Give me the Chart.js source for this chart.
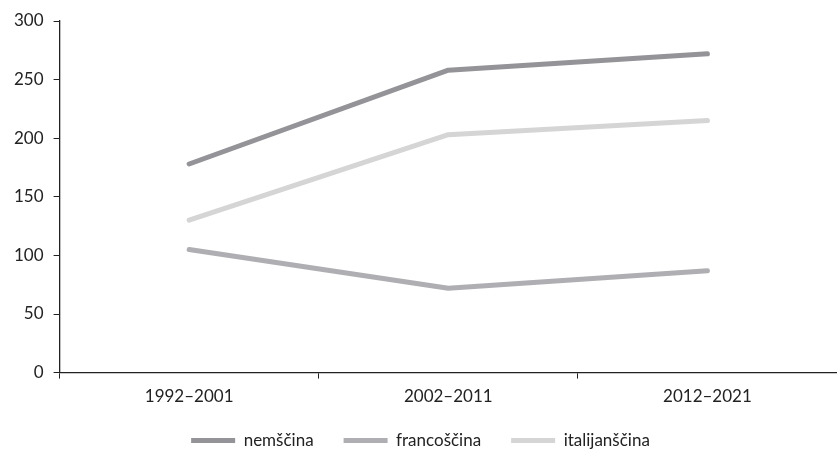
<!DOCTYPE html>
<html>
<head>
<meta charset="utf-8">
<script src="https://cdn.jsdelivr.net/npm/chart.js@4"></script>
<style>
  html, body { margin: 0; padding: 0; background: #fff; }
  #wrap { width: 837px; height: 449px; }
</style>
</head>
<body>
<div id="wrap"><canvas id="langChart"></canvas></div>
<script>
// Data
const periods = ['1992–2001', '2002–2011', '2012–2021']
const nemscina = [178, 258, 272]
const francoscina = [105, 72, 87]
const italijanscina = [130, 203, 215]
const yTicks = [0, 50, 100, 150, 200, 250, 300]

Chart.defaults.font.family = 'Lato, "Open Sans", sans-serif'
Chart.defaults.font.size = 17
Chart.defaults.color = '#222'

const legendPad = 30

// legend padding is used both between items and above/below the row;
// keep the wide gaps between items but make the legend box much shorter
const legendTrim = {
  id: 'legendTrim',
  beforeUpdate(chart) {
    const lg = chart.legend
    if (!lg || lg._trimmed) return
    const lift = legendPad - 17
    const origFit = lg.fit.bind(lg)
    const origDraw = lg.draw.bind(lg)
    lg.fit = function () {
      origFit()
      this.height -= 10 + lift
    }
    lg.draw = function () {
      this.top -= lift
      origDraw()
      this.top += lift
    }
    lg._trimmed = true
  },
}

const ctx = document.getElementById('langChart').getContext('2d')
new Chart(ctx, {
  type: 'line',
  data: {
    labels: periods,
    datasets: [
      {
        label: 'nemščina',
        data: nemscina,
        borderColor: '#949498',
        backgroundColor: '#949498',
        borderWidth: 5,
      },
      {
        label: 'francoščina',
        data: francoscina,
        borderColor: '#afafb3',
        backgroundColor: '#afafb3',
        borderWidth: 5,
      },
      {
        label: 'italijanščina',
        data: italijanscina,
        borderColor: '#d5d5d5',
        backgroundColor: '#d5d5d5',
        borderWidth: 5,
      },
    ],
  },
  options: {
    responsive: true,
    maintainAspectRatio: false,
    animation: false,
    elements: {
      point: { radius: 0, hoverRadius: 0 },
      line: { tension: 0, borderCapStyle: 'round', borderJoinStyle: 'round' },
    },
    layout: { padding: { left: 4, right: 0, top: 21, bottom: 0 } },
    scales: {
      x: {
        offset: true,
        grid: {
          offset: true,
          drawOnChartArea: false,
          drawTicks: true,
          tickLength: 6,
          color: '#222',
        },
        border: { color: '#222', width: 1.3 },
        ticks: { padding: 8 },
      },
      y: {
        min: 0,
        max: 300,
        afterBuildTicks: (axis) => {
          axis.ticks = yTicks.map((v) => ({ value: v }))
        },
        grid: {
          drawOnChartArea: false,
          drawTicks: true,
          tickLength: 6,
          color: '#222',
        },
        border: { color: '#222', width: 1.3 },
        ticks: { padding: 10 },
      },
    },
    plugins: {
      legend: {
        position: 'bottom',
        labels: {
          usePointStyle: true,
          pointStyle: 'line',
          pointStyleWidth: 44,
          padding: legendPad,
          color: '#222',
        },
      },
      tooltip: { enabled: false },
    },
  },
  plugins: [legendTrim],
})
</script>
</body>
</html>
